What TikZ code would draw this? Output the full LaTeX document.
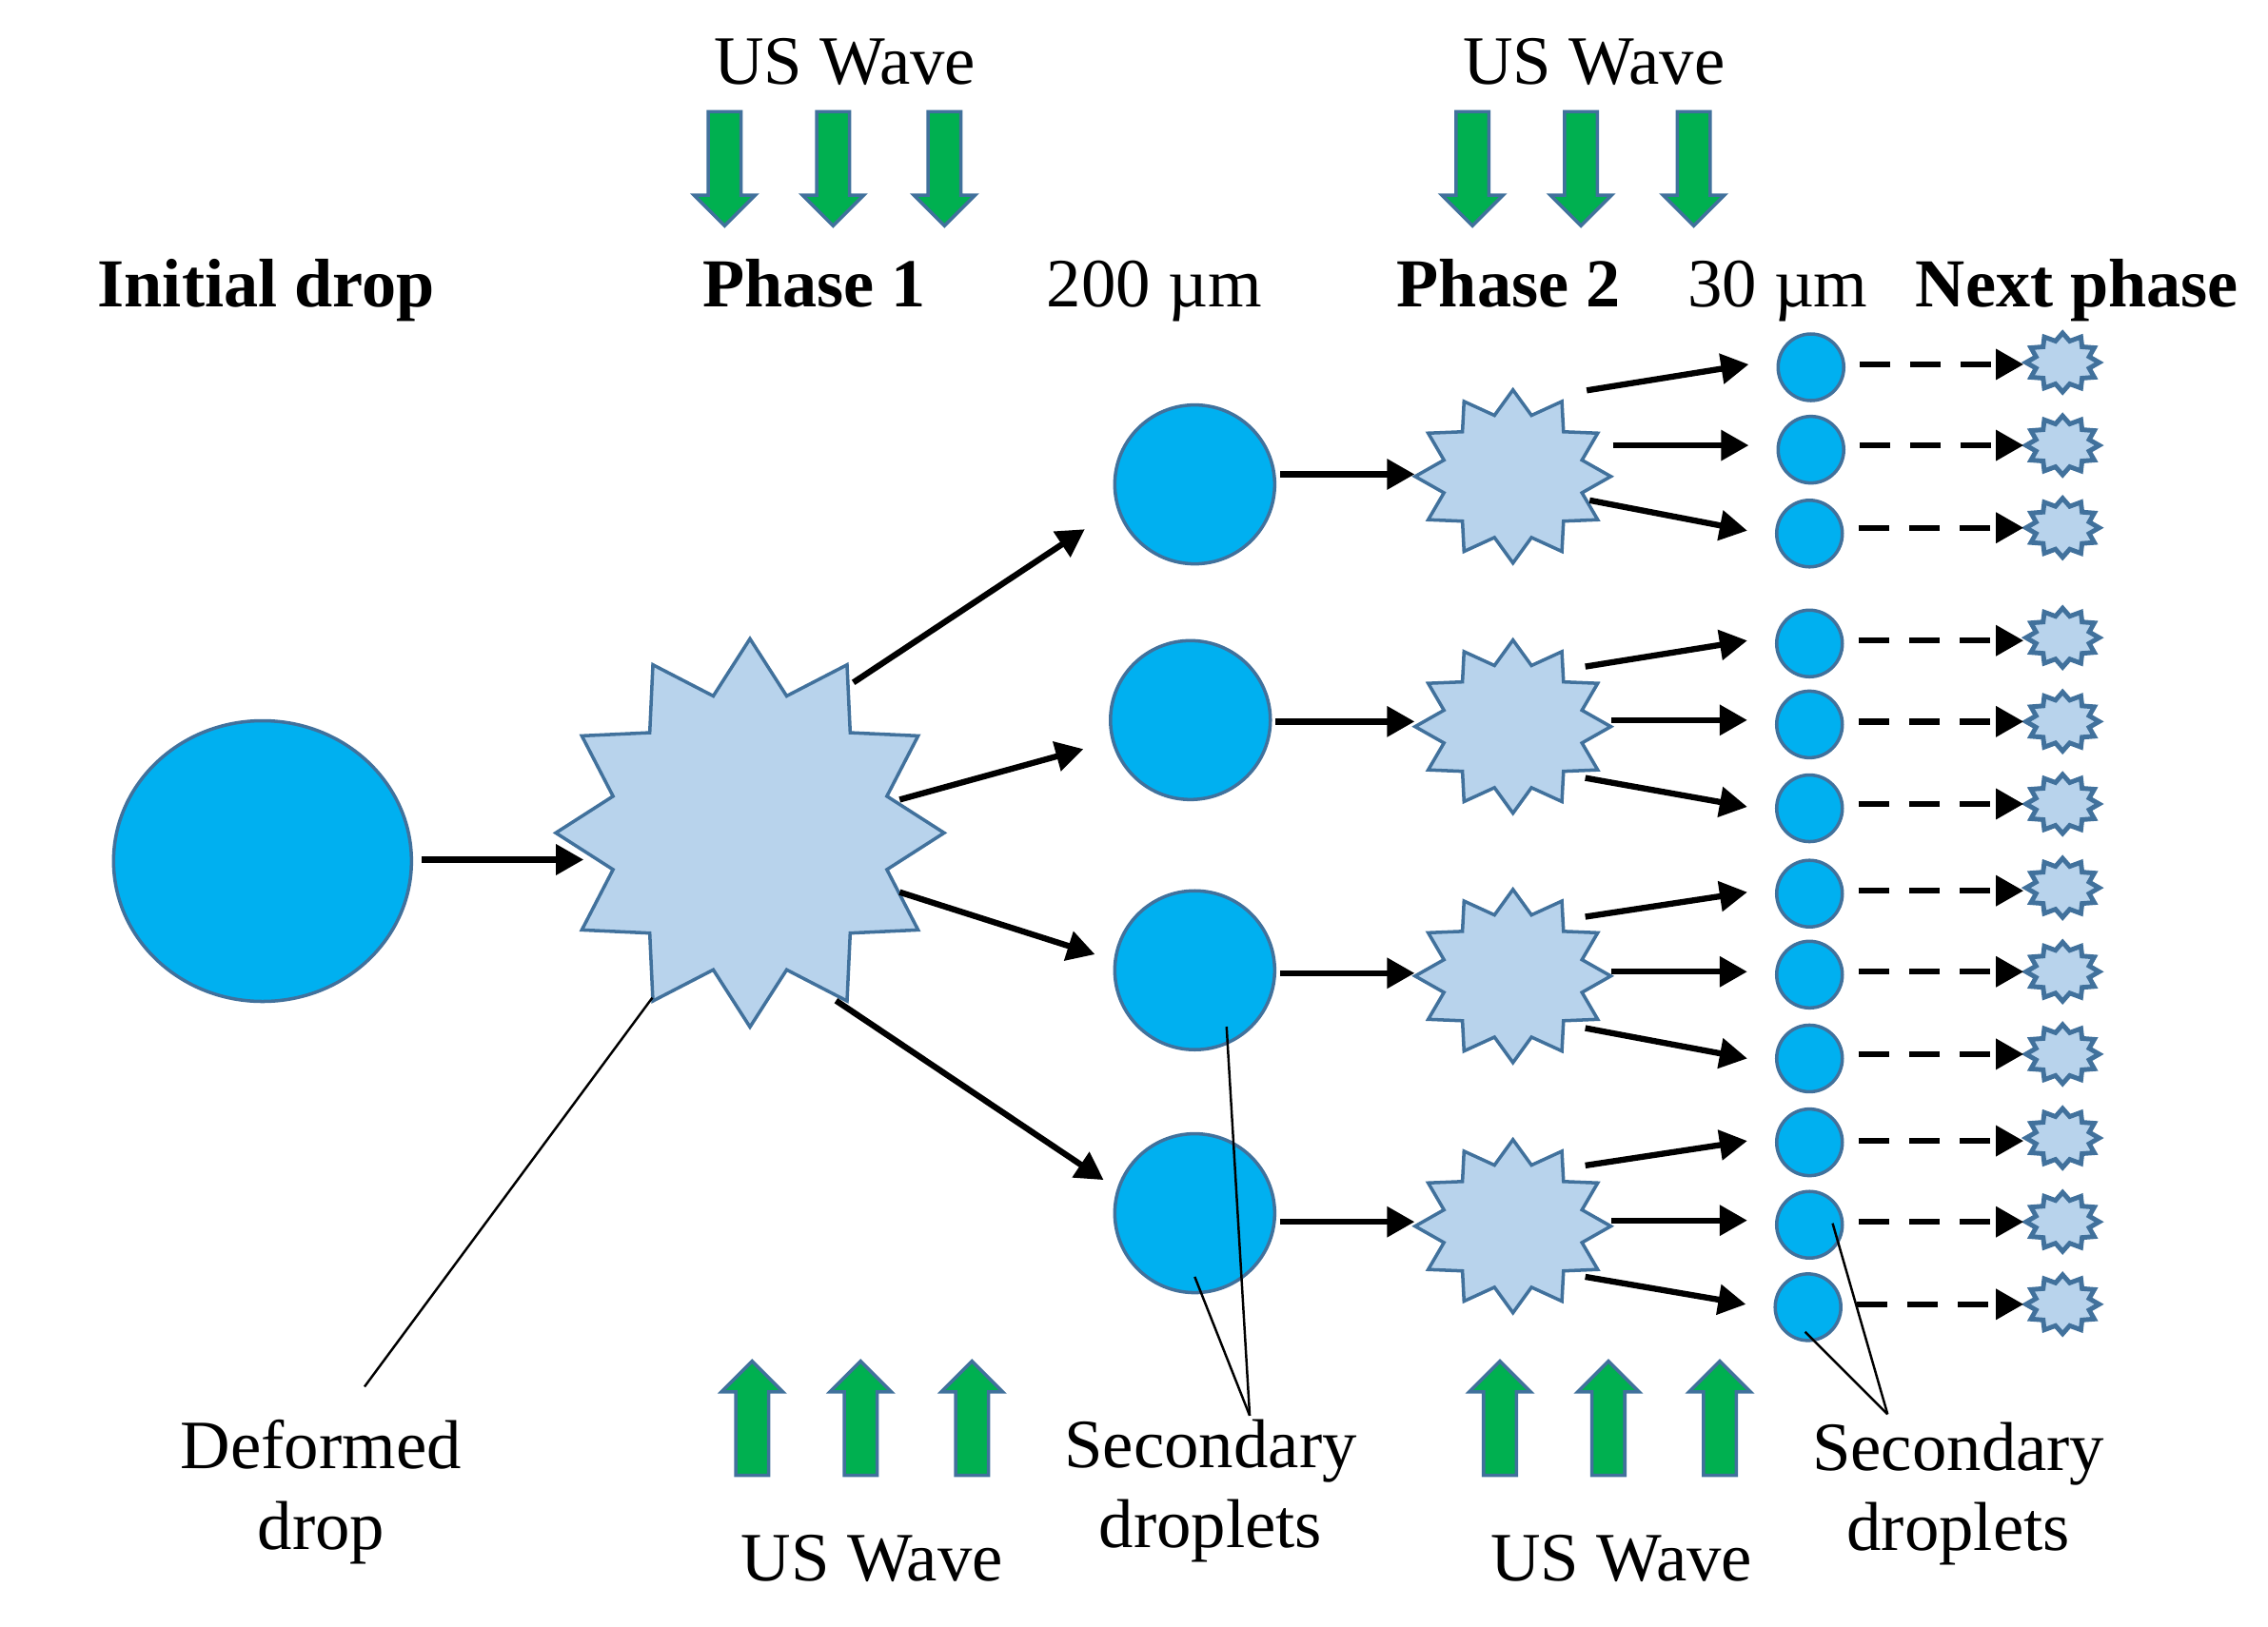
\documentclass[tikz,border=0pt]{standalone}
\usepackage{fontspec}
\setmainfont{Liberation Serif}
\usetikzlibrary{arrows.meta,shapes.geometric,shapes.arrows}
\definecolor{dropblue}{HTML}{00B0F0}
\definecolor{starblue}{HTML}{B8D3EC}
\definecolor{edgeblue}{HTML}{41719C}
\definecolor{wavegreen}{HTML}{00B050}
\tikzset{
	txt/.style={font=\fontsize{20.7}{24.1}\selectfont,inner sep=0pt,align=center},
	title/.style={txt,font=\fontsize{20.55}{24.1}\selectfont\bfseries},
	drop/.style={ellipse,draw=edgeblue,fill=dropblue,line width=1pt,inner sep=0pt},
	burst/.style={star,star points=12,star point ratio=1.37,draw=edgeblue,fill=starblue,line width=1pt,inner sep=0pt},
	wave/.style={single arrow,draw=edgeblue,fill=wavegreen,line width=1pt,inner xsep=0pt,inner ysep=.155cm,
		minimum height=1.2cm,single arrow head extend=.15cm},
	flow/.style={-{Triangle[length=2.9mm,width=3.1mm]},line width=1.8pt},
	leader/.style={line width=.7pt}
}
\begin{document}
\begin{tikzpicture}[x=0.015198cm,y=-0.015198cm]
	\useasboundingbox (0,0) rectangle (1568,1124.6);

	% drop and deformed drop
	\node[drop,minimum width=3.13cm,minimum height=2.95cm] (init) at (181.5,595.5) {};
	\node[burst,minimum size=4.08cm] (deformed) at (518.5,576) {};

	% phase 1
	\foreach \n/\x/\y in {1/826/335,2/823/498,3/826/671,4/826/839}
		\node[drop,minimum width=1.68cm,minimum height=1.67cm] (d_\n) at (\x,\y) {};
	\foreach \n/\y in {1/329.5,2/502.5,3/675,4/848}
		\node[burst,minimum size=1.82cm,xscale=1.13,transform shape] (s_\n) at (1046,\y) {};

	% phase 2
	\foreach \n/\x/\y in {1/1252/254,2/1252/311,3/1251/369,4/1251/445,5/1251/501,6/1251/559,
		7/1251/618,8/1251/674,9/1251/732,10/1251/790,11/1251/847,12/1250/904}
		\node[drop,minimum width=.69cm,minimum height=.7cm] (r_\n) at (\x,\y) {};

	% next phase
	\foreach \n/\y in {1/250.7,2/308,3/365,4/441,5/499,6/556,7/614,8/672,9/729,10/787,11/845,12/902}
		\node[burst,star point ratio=1.33,line width=1.4pt,minimum size=.62cm,xscale=1.24,transform shape] (n_\n) at (1426,\y) {};

	% connectors
	\draw[flow] ([shift={(110,-1)}]init.center) -- ([shift={(-115,18.5)}]deformed.center);
	\draw[flow] ([shift={(71.5,-104)}]deformed.center) -- ([shift={(-76,31)}]d_1.center);
	\draw[flow] ([shift={(103.5,-23)}]deformed.center) -- ([shift={(-74,20)}]d_2.center);
	\draw[flow] ([shift={(103.5,41)}]deformed.center) -- ([shift={(-69,-11)}]d_3.center);
	\draw[flow] ([shift={(59.5,116)}]deformed.center) -- ([shift={(-63,-23)}]d_4.center);

	\foreach \n/\a/\b in {1/-7/-1.5,2/1/-3.5,3/2/-2,4/6/-3}
		\draw[flow] ([shift={(59,\a)}]d_\n.center) -- ([shift={(-68,\b)}]s_\n.center);

	\foreach \n/\a/\ua/\ub/\ue/\b/\ma/\mb/\me/\c/\la/\lb/\le in {
		1/1/51/-59.5/-2/2/69/-21.5/-3/3/53/16.5/-2,
		2/4/50/-41.5/-2/5/68/-4.5/-3/6/50/35.5/-1,
		3/7/50/-41/-1/8/68/-3/-2/9/50/36/0,
		4/10/50/-42/-1/11/68/-4/-3/12/50/35/-2} {
		\draw[flow] ([shift={(\ua,\ub)}]s_\n.center) -- ([shift={(-43,\ue)}]r_\a.center);
		\draw[flow] ([shift={(\ma,\mb)}]s_\n.center) -- ([shift={(-43,\me)}]r_\b.center);
		\draw[flow] ([shift={(\la,\lb)}]s_\n.center) -- ([shift={(-43,\le)}]r_\c.center);
	}

	\foreach \n/\a in {1/-2,2/-3,3/-4,4/-2,5/-2,6/-3,7/-2,8/-2,9/-3,10/-1,11/-2,12/-2}
		\draw[flow,dash pattern=on .32cm off .21cm] ([shift={(34,\a)}]r_\n.center) coordinate (from)
			-- ([xshift=-.41cm]n_\n.center |- from);

	% wave arrows
	\foreach \n/\x in {1/501,2/576,3/653,4/1018,5/1093,6/1171}
		\node[wave,rotate=-90] (up_\n) at (\x,111) {};
	\foreach \n/\x in {1/520,2/595,3/672,4/1037,5/1112,6/1189}
		\node[wave,rotate=90] (lo_\n) at (\x,986.5) {};

	% labels
	\node[txt,anchor=base] (wave_a) at (584,58) {US Wave};
	\node[txt,anchor=base] (wave_b) at (1102,58) {US Wave};
	\node[txt,anchor=base] (wave_c) at (603,1093) {US Wave};
	\node[txt,anchor=base] (wave_d) at (1121,1093) {US Wave};
	\node[title,anchor=base] (lab_init) at (184,212) {Initial drop};
	\node[title,anchor=base] (lab_one) at (563,212) {Phase 1};
	\node[txt,anchor=base] (lab_big) at (798,212) {200 µm};
	\node[title,anchor=base] (lab_two) at (1043,212) {Phase 2};
	\node[txt,anchor=base] (lab_small) at (1229,212) {30 µm};
	\node[title,anchor=base] (lab_next) at (1436,212) {Next phase};
	\node[txt] (lab_def) at (222,1032) {Deformed\\drop};
	\node[txt] (lab_sec) at (837,1031) {Secondary\\droplets};
	\node[txt] (lab_secb) at (1354,1033) {Secondary\\droplets};

	% leader lines
	\coordinate (sec_a) at (864,979);
	\coordinate (sec_b) at (1305,978);
	\draw[leader] ([shift={(-67.5,114)}]deformed.center) -- (252,959);
	\draw[leader] ([shift={(22,39)}]d_3.center) -- (sec_a);
	\draw[leader] ([shift={(0,44)}]d_4.center) -- (sec_a);
	\draw[leader] ([shift={(16,-1)}]r_11.center) -- (sec_b);
	\draw[leader] ([shift={(-2,17)}]r_12.center) -- (sec_b);
\end{tikzpicture}
\end{document}
